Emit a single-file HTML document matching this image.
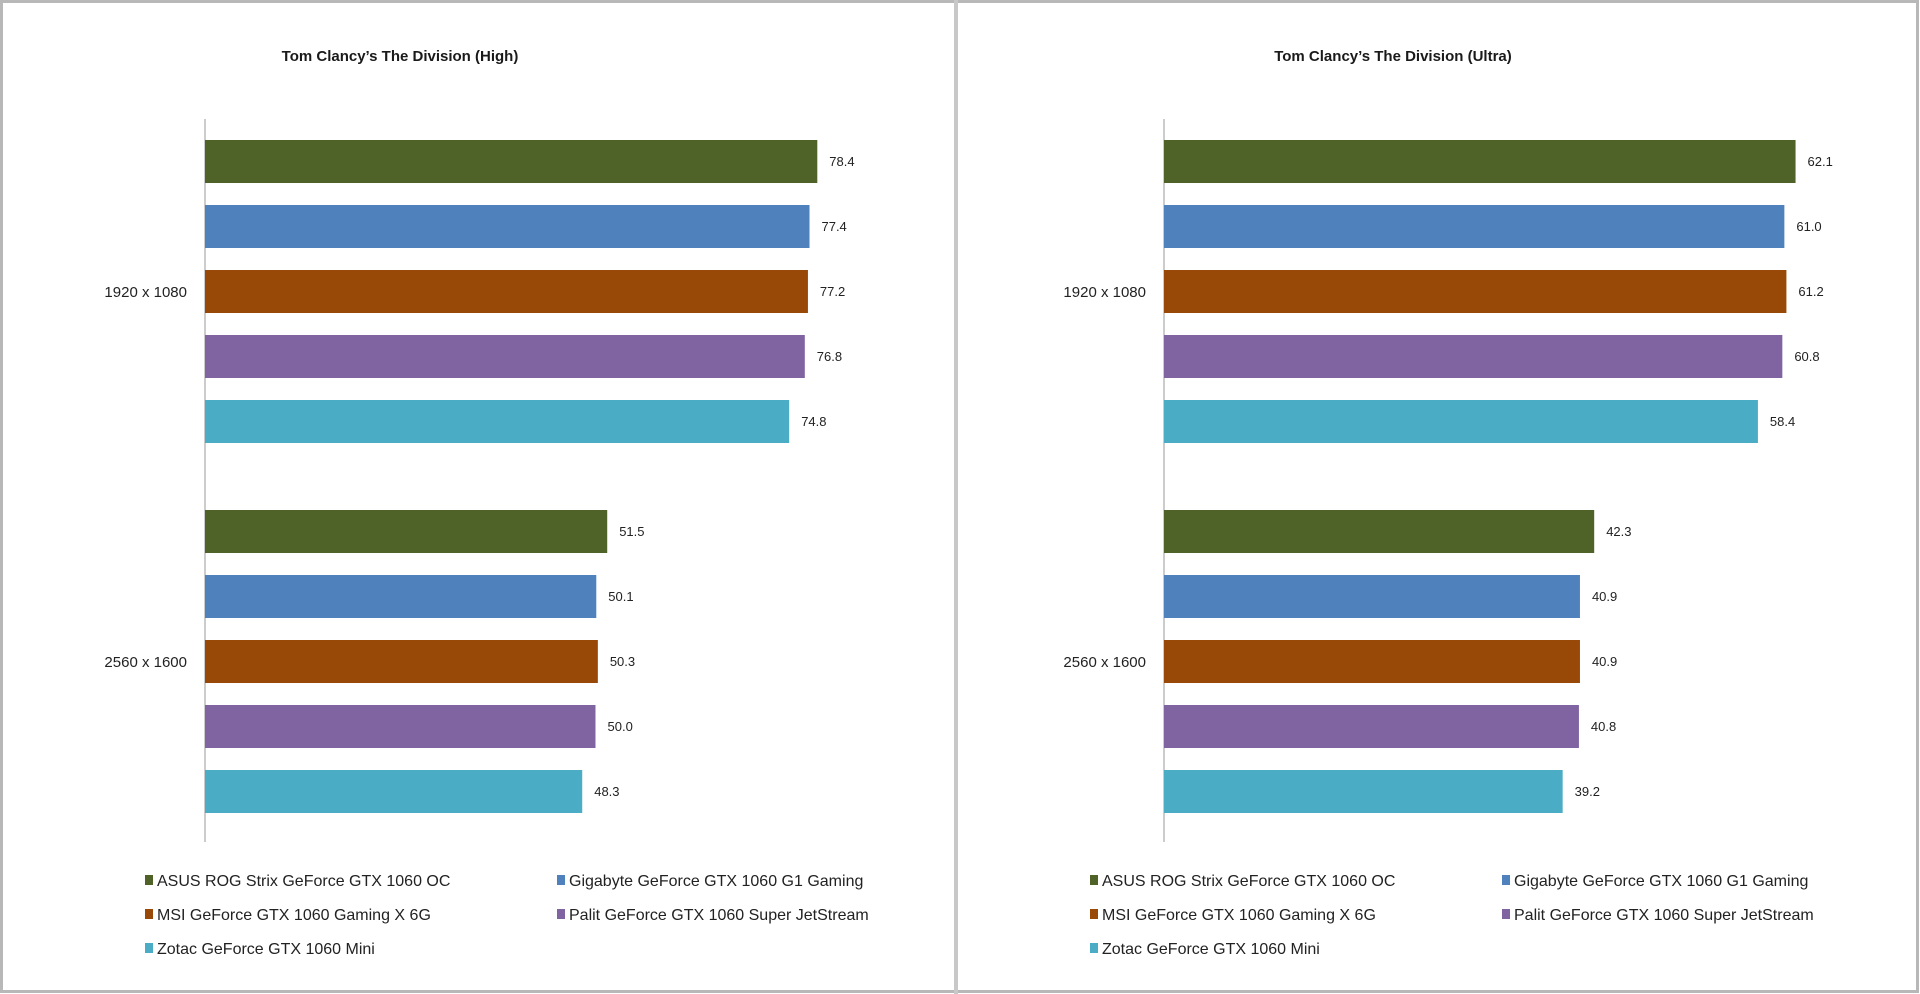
<!DOCTYPE html>
<html><head><meta charset="utf-8"><style>
html,body{margin:0;padding:0;background:#fff;}
svg{display:block;font-family:"Liberation Sans",sans-serif;}
</style></head><body>
<svg id="chart" width="1920" height="994" viewBox="0 0 1920 994">
<rect x="1.5" y="1.5" width="1916" height="990" fill="#fff" stroke="#b8b8b8" stroke-width="3"/>
<rect x="954" y="0" width="4" height="994" fill="#c8c8c8"/>
</svg>
<script>
const series = ["ASUS ROG Strix GeForce GTX 1060 OC","Gigabyte GeForce GTX 1060 G1 Gaming","MSI GeForce GTX 1060 Gaming X 6G","Palit GeForce GTX 1060 Super JetStream","Zotac GeForce GTX 1060 Mini"];
const colors = ["#4f6228","#4f81bd","#984807","#8064a2","#4bacc6"];
const categories = ["1920 x 1080","2560 x 1600"];
const highValues = [[78.4,77.4,77.2,76.8,74.8],[51.5,50.1,50.3,50.0,48.3]];
const ultraValues = [[62.1,61.0,61.2,60.8,58.4],[42.3,40.9,40.9,40.8,39.2]];
const highLabels = [["78.4","77.4","77.2","76.8","74.8"],["51.5","50.1","50.3","50.0","48.3"]];
const ultraLabels = [["62.1","61.0","61.2","60.8","58.4"],["42.3","40.9","40.9","40.8","39.2"]];

const svg = document.getElementById('chart');
const NS = 'http://www.w3.org/2000/svg';
function mk(tag, attrs, text){const e=document.createElementNS(NS,tag);for(const k in attrs)e.setAttribute(k,attrs[k]);if(text!==undefined)e.textContent=text;svg.appendChild(e);return e;}

function panel(cfg){
  const x = v => cfg.x0 + v*cfg.scale;
  const barTop = (g,s) => 140 + g*370 + s*65;
  const t = mk('text',{x:cfg.titleX,y:61,'font-size':15,'font-weight':'bold','text-anchor':'middle',fill:'#1a1a1a'},cfg.title);
  
  
  const ax = mk('line',{x1:cfg.x0,y1:119,x2:cfg.x0,y2:842,stroke:'#bbb','stroke-width':1.5});
  
  
  cfg.values.forEach((grp,g)=>{
    const cl = mk('text',{x:cfg.x0-18,y:barTop(g,2)+27,'font-size':15,'text-anchor':'end',fill:'#222'},categories[g]);
    
    
    grp.forEach((v,s)=>{
      const r = mk('rect',{x:cfg.x0,y:barTop(g,s),width:x(v)-cfg.x0,height:43,fill:colors[s]});
      
      
      const l = mk('text',{x:x(v)+12,y:barTop(g,s)+26,'font-size':13,fill:'#222'},cfg.labels[g][s]);
      
      
    });
  });
  series.forEach((name,i)=>{
    const col=i%2,row=Math.floor(i/2);
    const mx = cfg.legX + col*412, my = 886 + row*34;
    const m = mk('rect',{x:mx,y:my-11,width:8,height:10,fill:colors[i]});
    
    
    const lt = mk('text',{x:mx+12,y:my,'font-size':16,fill:'#222'},name);
    
    
  });
}
panel({id:'high',title:"Tom Clancy’s The Division (High)",titleX:400,x0:205,scale:7.81,values:highValues,labels:highLabels,legX:145});
panel({id:'ultra',title:"Tom Clancy’s The Division (Ultra)",titleX:1393,x0:1164,scale:10.17,values:ultraValues,labels:ultraLabels,legX:1090});
</script>
</body></html>
